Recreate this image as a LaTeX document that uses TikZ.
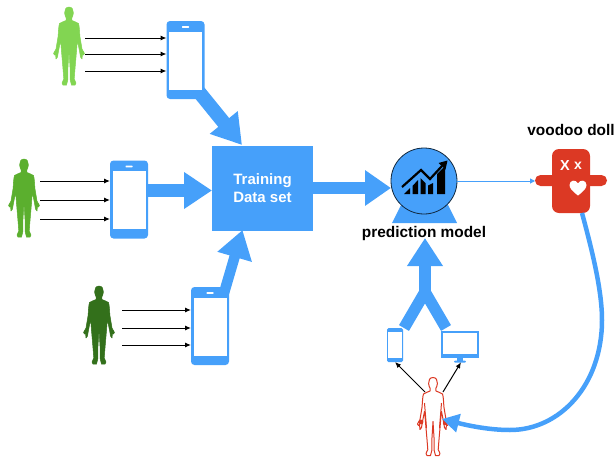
\documentclass[tikz,border=0pt]{standalone}
\usepackage{fontspec}
\setmainfont{Liberation Sans}
\usetikzlibrary{arrows.meta,calc}
\definecolor{flow}{HTML}{46A0FA}
\definecolor{dollred}{HTML}{DC3924}
\definecolor{pa}{HTML}{82D552}
\definecolor{pb}{HTML}{5BAF2E}
\definecolor{pc}{HTML}{33701B}
\tikzset{
 x=1pt,y=-1pt,
 phonebox/.style={fill=flow,rounded corners=3.5pt,minimum width=38pt,minimum height=78pt,inner sep=0,outer sep=0,anchor=center},
 screenbox/.style={fill=white,minimum width=33pt,minimum height=58pt,inner sep=0},
 personbox/.style={minimum width=31pt,minimum height=78pt,inner sep=0,outer sep=0},
 thin arr/.style={-{Latex[length=6pt,width=5pt]},line width=1pt,black},
 big/.style={draw=flow,line width=#1},
 lbl/.style={inner sep=0,font=\bfseries\fontsize{15.4}{18}\selectfont},
 human/.style={line width=.5pt,line join=round,draw=#1,fill=#1},
}
\newcommand{\humanpath}{
 (0,0) .. controls (3.5,0) and (4.4,3) .. (4.4,6) .. controls (4.4,8.5) and (3.2,10) .. (2.8,11)
 -- (3,13.5) .. controls (5,15) and (8.5,15) .. (9.5,16.5) .. controls (10.5,19) and (10.5,25) .. (11,30)
 -- (13,42) -- (15.5,46.5) -- (14.5,48) -- (13.5,47) -- (13,52) -- (11.5,50) -- (10.5,44) -- (8.5,34)
 -- (8,38) -- (7.2,48) -- (6,62) -- (5.2,72) -- (7,76) -- (6,78) -- (2.5,78) -- (1.2,73) -- (1,60) -- (0,44)
 -- (-1,60) -- (-1.2,73) -- (-2.5,78) -- (-6,78) -- (-7,76) -- (-5.2,72) -- (-6,62) -- (-7.2,48) -- (-8,38) -- (-8.5,34)
 -- (-10.5,44) -- (-11.5,50) -- (-13,52) -- (-13.5,47) -- (-14.5,48) -- (-15.5,46.5) -- (-13,42) -- (-11,30)
 .. controls (-10.5,25) and (-10.5,19) .. (-9.5,16.5) .. controls (-8.5,15) and (-5,15) .. (-3,13.5) -- (-2.8,11)
 .. controls (-3.2,10) and (-4.4,8.5) .. (-4.4,6) .. controls (-4.4,3) and (-3.5,0) .. (0,0) -- cycle
}
\newcommand{\phoneat}[3]{% name, x, y centre
 \node[phonebox] (#1) at (#2,#3) {};
 \node[screenbox] (#1s) at (#2,#3+.5) {};
 \fill[white,rounded corners=.5pt] (#2-3.5,#3-33.8) rectangle ++(7,1.6);
}
\begin{document}
\begin{tikzpicture}
\useasboundingbox (0,0) rectangle (614,461);
% people
\node[personbox] (p1) at (69,46) {};
\path[human=pa,shift={(69,7)}] \humanpath;
\node[personbox] (p2) at (24,198) {};
\path[human=pb,shift={(24,159)}] \humanpath;
\node[personbox] (p3) at (99,325.5) {};
\path[human=pc,shift={(99,286)}] \humanpath;
% training box
\node[fill=flow,minimum width=101pt,minimum height=85pt,inner sep=0,outer sep=0,align=center,text=white,font=\bfseries\fontsize{15}{18}\selectfont] (train) at (262.5,188) {Training\\Data set};
% big arrows
\coordinate (a1s) at (199,92); \coordinate (a1e) at (242,145);
\draw[big=14pt,-{Triangle[length=29pt,width=34pt]}] (a1s) -- (a1e);
\coordinate (a3s) at (224,293); \coordinate (a3e) at (242.5,230);
\draw[big=10.5pt,-{Triangle[length=28pt,width=34pt]}] (a3s) -- (a3e);
% phones
\phoneat{ph1}{185.5}{60}
\phoneat{ph2}{129}{199.5}
\phoneat{ph3}{210}{326}
% small arrows
\foreach \yy in {38,54,71}{\draw[thin arr] (85,\yy) -- (ph1.west |- 0,\yy);}
\foreach \yy in {181,200,219}{\draw[thin arr] (40,\yy) -- (ph2.west |- 0,\yy);}
\foreach \yy in {310,328,345}{\draw[thin arr] (122,\yy) -- (ph3.west |- 0,\yy);}
\draw[big=12.5pt,-{Triangle[length=28pt,width=35pt]}] (ph2.east |- 0,190.5) -- (train.west |- 0,190.5);
% model
\fill[flow] (402,203) coordinate (st1) -- (447,203) -- (457,223) -- (392,223) -- cycle;
\node[circle,fill=flow,draw=black!75!flow,line width=.8pt,minimum size=66pt,inner sep=0,outer sep=0] (model) at (424,181) {};
\draw[big=11.5pt,-{Triangle[length=26pt,width=34pt]}] (train.east |- 0,188) -- (391,188);
% chart
\fill[black] (404,194) -- (410,188) -- (410,194) -- cycle;
\fill[black] (412.5,186) -- (418,180) -- (418,194) -- (412.5,194) -- cycle;
\fill[black] (420.5,178) -- (425.5,183) -- (425.5,194) -- (420.5,194) -- cycle;
\fill[black] (428,185.5) -- (433,183) -- (433,194) -- (428,194) -- cycle;
\fill[black] (437,174) -- (445,166) -- (445,194) -- (437,194) -- cycle;
\draw[black,line width=2.2pt] (402,187) -- (421,170) -- (430,179) -- (442,166);
\fill[black] (447.5,160.5) -- (445.5,169.5) -- (438.5,163) -- cycle;
\node[lbl] (ml) at (424,234) {prediction model};
% doll
\node[fill=dollred,rounded corners=5.5pt,minimum width=72pt,minimum height=11pt,inner sep=0,outer sep=0] (dollarms) at (571,180.5) {};
\node[fill=dollred,rounded corners=7pt,minimum width=38pt,minimum height=64pt,inner sep=0,outer sep=0] (doll) at (571,181) {};
\node[lbl] (dl) at (571,130) {voodoo doll};
\node[inner sep=0,text=white,font=\bfseries\fontsize{14.5}{14}\selectfont] (xa) at (565,165.5) {X};
\node[inner sep=0,text=white,font=\bfseries\fontsize{14}{14}\selectfont] (xb) at (578,166) {x};
\fill[white] (578,195.5) .. controls (572,191) and (569.5,188) .. (569.5,185) .. controls (569.5,180) and (576,179) .. (578,183.5) .. controls (580,179) and (586.5,180) .. (586.5,185) .. controls (586.5,188) and (584,191) .. (578,195.5) -- cycle;
\draw[flow,line width=1pt,-{Triangle[length=5pt,width=5pt]}] (model.east |- 0,181) -- (dollarms.west |- 0,181);
% lower devices
\node[fill=flow,rounded corners=1.5pt,minimum width=16pt,minimum height=34pt,inner sep=0,outer sep=0] (ph4) at (395,345) {};
\node[fill=white,minimum width=13.5pt,minimum height=26.5pt,inner sep=0] (ph4s) at (395,345) {};
\node[fill=flow,minimum width=38pt,minimum height=27pt,inner sep=0,outer sep=0] (mon) at (460,344.5) {};
\node[fill=white,minimum width=34pt,minimum height=21pt,inner sep=0] (mons) at (460,343.5) {};
\fill[flow] (457,358) rectangle (463,361);
\fill[flow,rounded corners=1pt] (454,360.5) rectangle (466,362.5);
% Y connector
\coordinate (yj) at (425,292); \coordinate (yt) at (425,238);
\coordinate (yl) at (404,328); \coordinate (yr) at (446,328);
\draw[big=11.5pt] (yl) -- (yj) -- (yr);
\draw[big=11.5pt,-{Triangle[length=28pt,width=34pt]}] (yj) -- (yt);
% red person
\node[personbox] (p4) at (433,417) {};
\path[draw=dollred,fill=white,line width=1pt,line join=round,shift={(433,377.5)}] \humanpath;
\draw[dollred,line width=1pt] (424.5,403) -- (426.5,428) (441.5,403) -- (439.5,428);
\fill[dollred] (421,422) circle (2.4) (445,423) circle (2.2);
\coordinate (h1) at (425,392); \coordinate (h2) at (443,392);
\draw[thin arr] (h1) -- (ph4.south);
\draw[thin arr] (h2) -- (461,362.3);
% curve
\coordinate (ce) at (442,419);
\draw[flow,line width=4.5pt,-{Triangle[length=17pt,width=18pt]}] (582,213) .. controls (592,250) and (602,290) .. (602,320) .. controls (602,385) and (560,430) .. (510,430) .. controls (490,430) and (470,426) .. (ce);
\end{tikzpicture}
\end{document}
